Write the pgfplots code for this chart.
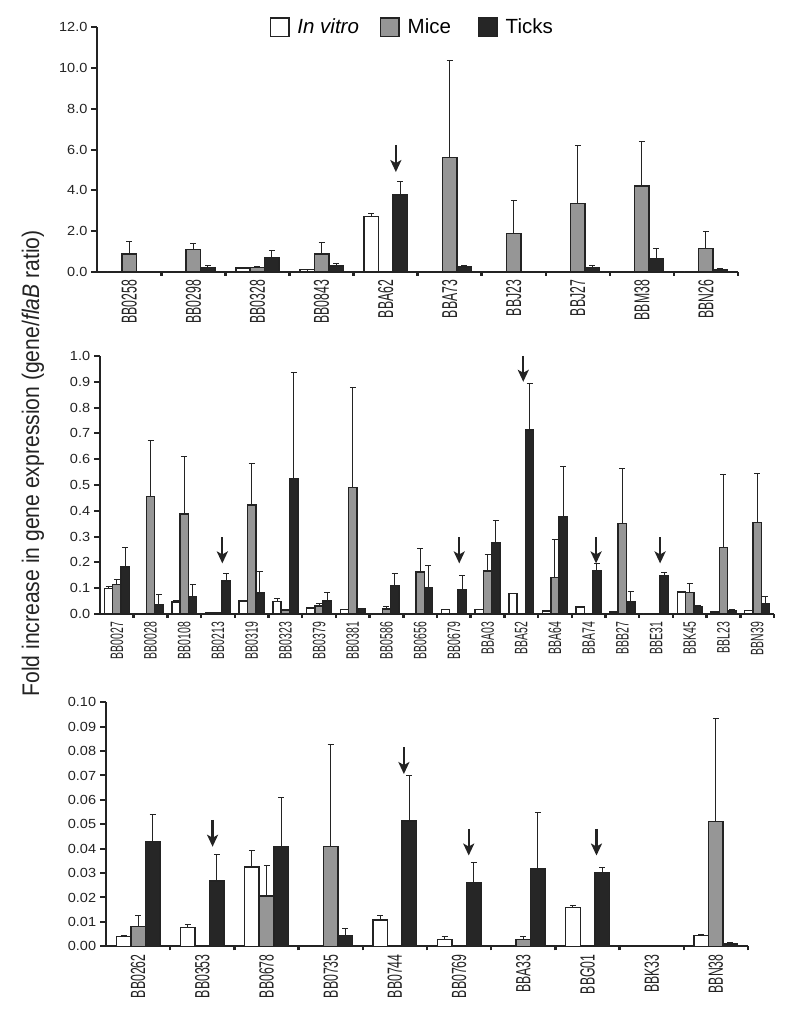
\documentclass[border=0pt]{standalone}
\usepackage{fontspec}
\setmainfont{Liberation Sans}
\usepackage{pgfplots}
\usepackage{pgfplotstable}
\pgfplotsset{compat=1.18}
\usetikzlibrary{arrows.meta}

\definecolor{ink}{RGB}{35,35,35}
\definecolor{micegray}{RGB}{150,150,150}
\definecolor{tickblack}{RGB}{38,38,38}

% columns: x, in vitro (w, we), mice (m, me), ticks (t, te); *e = upper error
\pgfplotstableread{
x w we m me t te
0 0 0 0.87 0.63 0.03 0
1 0.03 0 1.11 0.30 0.23 0.10
2 0.20 0.02 0.21 0.07 0.72 0.33
3 0.11 0.01 0.88 0.57 0.29 0.14
4 2.71 0.17 0 0 3.78 0.67
5 0 0 5.62 4.74 0.25 0.08
6 0 0 1.88 1.62 0.03 0
7 0 0 3.37 2.84 0.21 0.13
8 0 0 4.22 2.19 0.67 0.49
9 0 0 1.16 0.85 0.13 0.05
}\dataA

\pgfplotstableread{
x w we m me t te
0 0.099 0.009 0.114 0.019 0.183 0.075
1 0 0 0.456 0.216 0.036 0.040
2 0.047 0.005 0.388 0.223 0.067 0.049
3 0.003 0 0.003 0 0.128 0.030
4 0.050 0.004 0.422 0.161 0.081 0.083
5 0.049 0.010 0.016 0 0.525 0.410
6 0.023 0 0.031 0.010 0.050 0.034
7 0.018 0 0.491 0.388 0.021 0
8 0 0 0.019 0.009 0.110 0.046
9 0 0 0.163 0.092 0.102 0.087
10 0.017 0 0 0 0.094 0.055
11 0.017 0 0.167 0.064 0.276 0.087
12 0.080 0 0 0 0.713 0.181
13 0.012 0 0.141 0.148 0.376 0.195
14 0.027 0 0 0 0.169 0.025
15 0.008 0 0.351 0.211 0.048 0.039
16 0 0 0 0 0.150 0.011
17 0.085 0.002 0.084 0.035 0.030 0.004
18 0.008 0 0.258 0.281 0.012 0.004
19 0.014 0 0.355 0.190 0.040 0.027
}\dataB

\pgfplotstableread{
x w we m me t te
0 0.0041 0.0005 0.0081 0.0046 0.0429 0.0113
1 0.0078 0.0012 0 0 0.0268 0.0110
2 0.0325 0.0068 0.0206 0.0124 0.0410 0.0201
3 0 0 0.0410 0.0419 0.0044 0.0027
4 0.0108 0.0019 0 0 0.0514 0.0187
5 0.0028 0.0011 0 0 0.0261 0.0084
6 0.0002 0 0.0027 0.0013 0.0317 0.0231
7 0.0160 0.0006 0 0 0.0303 0.0021
8 0 0 0.0002 0 0 0
9 0.0045 0.0003 0.0511 0.0421 0.0010 0.0005
}\dataC

\tikzset{pointer/.style={line width=2.2pt, draw=ink, -{Stealth[length=12pt, width=11pt, inset=3pt]}}}

\pgfplotsset{
  panel/.style={
    scale only axis, anchor=south west,
    axis lines=left,
    axis line style={-, line width=2.2pt, draw=ink},
    ymin=0, xmin=-0.5, clip=false,
    tick align=outside,
    major tick length=6pt, minor tick length=4pt,
    ytick style={line width=2pt, draw=ink},
    major x tick style={draw=none},
    minor x tick style={line width=2.5pt, draw=ink},
    yticklabel style={font=\fontsize{13.2}{15}\selectfont, xscale=1.1, text=ink},
    xticklabel style={rotate=90, anchor=east, text=ink},
    scaled y ticks=false,
    /pgf/number format/assume math mode=true,
    /pgf/number format/fixed, /pgf/number format/fixed zerofill,
    ybar,
    error bars/error bar style={line width=1pt, draw=ink},
    error bars/error mark options={rotate=90, mark size=3pt, line width=1pt, draw=ink},
  },
  vitro/.style={draw=ink, fill=white, line width=1.5pt},
  mice/.style={draw=ink, fill=micegray, line width=1.5pt},
  ticks/.style={draw=ink, fill=tickblack, line width=1.5pt},
}

\begin{document}
\begin{tikzpicture}
\useasboundingbox (0,0) rectangle (800pt,1022pt);

% ---- top panel ----
\begin{axis}[panel,
  at={(97.3pt,750pt)}, width=640.7pt, height=244.7pt,
  xmax=9.5, ymax=12,
  bar width=0.226,
  ytick={0,2,4,6,8,10,12},
  /pgf/number format/precision=1,
  xtick={0,...,9},
  minor xtick={0.5,1.5,...,9.5},
  xticklabels={BB0258,BB0298,BB0328,BB0843,BBA62,BBA73,BBJ23,BBJ27,BBM38,BBN26},
  xticklabel style={font=\fontsize{21.5}{22}\selectfont, xscale=0.57},
  legend style={at={(0.49,1.0)}, anchor=center, draw=none, fill=none,
    legend columns=-1, font=\fontsize{20.5}{24}\selectfont,
    nodes={inner sep=0pt},
    /tikz/every even column/.append style={column sep=0pt},
    /tikz/every odd column/.append style={column sep=0pt}},
  legend image code/.code={%
    \draw[#1, /pgfplots/bar shift=0pt] (0pt,-9.2pt) rectangle (18.4pt,9.2pt);
    \path[draw=none, fill=none] (0pt,0pt) -- (27pt,0pt);},
]
\addplot[vitro, bar shift=-0.226, error bars/.cd, y dir=plus, y explicit]
  table[x=x, y=w, y error=we] {\dataA};
\addplot[mice, bar shift=0, error bars/.cd, y dir=plus, y explicit]
  table[x=x, y=m, y error=me] {\dataA};
\addplot[ticks, bar shift=0.226, error bars/.cd, y dir=plus, y explicit]
  table[x=x, y=t, y error=te] {\dataA};
\legend{\textit{In vitro}\rule{21pt}{0pt}, Mice\rule{27pt}{0pt}, Ticks}
\draw[pointer] (4.16,6.23) -- (4.16,4.90);
\end{axis}

% ---- middle panel ----
\begin{axis}[panel,
  at={(100pt,408pt)}, width=674pt, height=258pt,
  xmax=19.5, ymax=1,
  bar width=0.246,
  ytick={0,0.1,0.2,0.3,0.4,0.5,0.6,0.7,0.8,0.9,1.0},
  /pgf/number format/precision=1,
  xtick={0,...,19},
  minor xtick={0.5,1.5,...,19.5},
  xticklabels={BB0027,BB0028,BB0108,BB0213,BB0319,BB0323,BB0379,BB0381,BB0586,BB0656,
    BB0679,BBA03,BBA52,BBA64,BBA74,BBB27,BBE31,BBK45,BBL23,BBN39},
  xticklabel style={font=\fontsize{18}{19}\selectfont, xscale=0.58},
]
\addplot[vitro, bar shift=-0.246, error bars/.cd, y dir=plus, y explicit]
  table[x=x, y=w, y error=we] {\dataB};
\addplot[mice, bar shift=0, error bars/.cd, y dir=plus, y explicit]
  table[x=x, y=m, y error=me] {\dataB};
\addplot[ticks, bar shift=0.246, error bars/.cd, y dir=plus, y explicit]
  table[x=x, y=t, y error=te] {\dataB};
\draw[pointer] (3.13,0.297) -- (3.13,0.196);
\draw[pointer] (10.16,0.297) -- (10.16,0.196);
\draw[pointer] (12.06,1.0) -- (12.06,0.90);
\draw[pointer] (14.22,0.297) -- (14.22,0.196);
\draw[pointer] (16.12,0.297) -- (16.12,0.196);
\end{axis}

% ---- bottom panel ----
\begin{axis}[panel,
  at={(106pt,75.7pt)}, width=642pt, height=244pt,
  xmax=9.5, ymax=0.1,
  bar width=0.226,
  ytick={0,0.01,0.02,0.03,0.04,0.05,0.06,0.07,0.08,0.09,0.10},
  /pgf/number format/precision=2,
  xtick={0,...,9},
  minor xtick={0.5,1.5,...,9.5},
  xticklabels={BB0262,BB0353,BB0678,BB0735,BB0744,BB0769,BBA33,BBG01,BBK33,BBN38},
  xticklabel style={font=\fontsize{20.5}{21}\selectfont, xscale=0.6},
]
\addplot[vitro, bar shift=-0.226, error bars/.cd, y dir=plus, y explicit]
  table[x=x, y=w, y error=we] {\dataC};
\addplot[mice, bar shift=0, error bars/.cd, y dir=plus, y explicit]
  table[x=x, y=m, y error=me] {\dataC};
\addplot[ticks, bar shift=0.226, error bars/.cd, y dir=plus, y explicit]
  table[x=x, y=t, y error=te] {\dataC};
\draw[pointer] (1.16,0.0518) -- (1.16,0.0408);
\draw[pointer] (4.14,0.0816) -- (4.14,0.0706);
\draw[pointer] (5.15,0.0481) -- (5.15,0.0372);
\draw[pointer] (7.14,0.0481) -- (7.14,0.0372);
\end{axis}

\node[rotate=90, anchor=base, xscale=0.88, font=\fontsize{24}{28}\selectfont, text=ink]
  at (39pt,558.5pt) {Fold increase in gene expression (gene/\textit{flaB} ratio)};
\end{tikzpicture}
\end{document}
